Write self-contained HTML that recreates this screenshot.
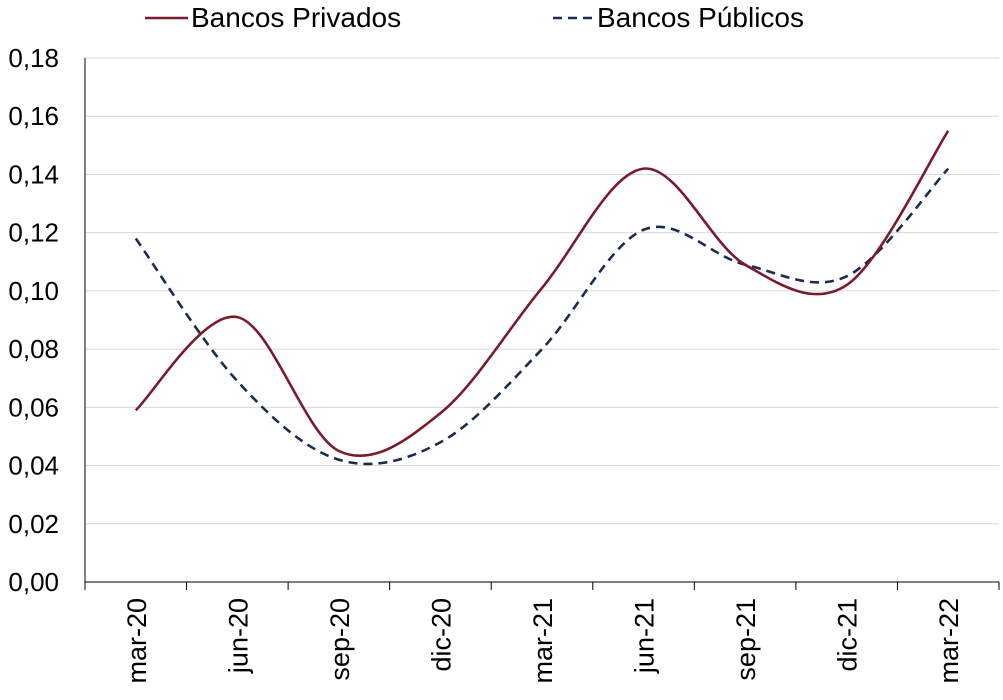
<!DOCTYPE html>
<html><head><meta charset="utf-8"><style>
html,body{margin:0;padding:0;background:#fff;}
svg{display:block;font-family:"Liberation Sans",sans-serif;}
</style></head><body>
<svg id="s" width="1003" height="700" viewBox="0 0 1003 700" xmlns="http://www.w3.org/2000/svg">
<g id="grid" stroke="#d9d9d9" stroke-width="1"></g>
<line x1="85" y1="58" x2="85" y2="582" stroke="#000" stroke-width="1"/>
<line x1="85" y1="582" x2="999" y2="582" stroke="#000" stroke-width="1"/>
<g id="ticks" stroke="#000" stroke-width="1"></g>
<g id="ylab" font-size="26" fill="#000" text-anchor="end"></g>
<g id="xlab" font-size="27" fill="#000"></g>
<path id="pub" fill="none" stroke="#1b2d4f" stroke-width="2.6" stroke-dasharray="9,6"/>
<path id="pri" fill="none" stroke="#7b1a2c" stroke-width="2.6"/>
<line x1="145" y1="18" x2="188" y2="18" stroke="#7b1a2c" stroke-width="2.6"/>
<text x="191" y="27" font-size="28">Bancos Privados</text>
<line x1="553" y1="18" x2="594" y2="18" stroke="#1b2d4f" stroke-width="2.6" stroke-dasharray="9,6"/>
<text x="597" y="27" font-size="28">Bancos Públicos</text>
</svg>
<script>
var ns="http://www.w3.org/2000/svg";
function el(p,t,a,txt){var e=document.createElementNS(ns,t);for(var k in a)e.setAttribute(k,a[k]);if(txt)e.textContent=txt;document.getElementById(p).appendChild(e);}
function Y(v){return 582-v/0.18*524;}
for(var i=0;i<=9;i++){var v=i*0.02,y=Y(v);
 if(i>0)el("grid","line",{x1:85,x2:999,y1:y,y2:y});
 el("ylab","text",{x:59,y:y+9},v.toFixed(2).replace(".",","));}
var cw=914/9;
var labs=["mar-20","jun-20","sep-20","dic-20","mar-21","jun-21","sep-21","dic-21","mar-22"];
for(var i=0;i<=9;i++){var x=85+i*cw;el("ticks","line",{x1:x,x2:x,y1:582,y2:590});}
labs.forEach(function(l,i){var x=85+(i+0.5)*cw+10;el("xlab","text",{x:0,y:0,transform:"translate("+x+",598) rotate(-90)","text-anchor":"end"},l);});
function path(d){var p=d.map(function(v,i){return [85+(i+0.5)*cw,Y(v)];});
 var s="M"+p[0][0]+","+p[0][1];
 for(var i=0;i<p.length-1;i++){var p0=p[i-1]||p[i],p1=p[i],p2=p[i+1],p3=p[i+2]||p2,t=1/6;
  s+=" C"+(p1[0]+(p2[0]-p0[0])*t)+","+(p1[1]+(p2[1]-p0[1])*t)+" "+(p2[0]-(p3[0]-p1[0])*t)+","+(p2[1]-(p3[1]-p1[1])*t)+" "+p2[0]+","+p2[1];}
 return s;}
document.getElementById("pri").setAttribute("d",path([0.059,0.091,0.045,0.058,0.101,0.142,0.109,0.102,0.155]));
document.getElementById("pub").setAttribute("d",path([0.118,0.069,0.042,0.048,0.080,0.121,0.109,0.105,0.142]));
</script>
</body></html>
